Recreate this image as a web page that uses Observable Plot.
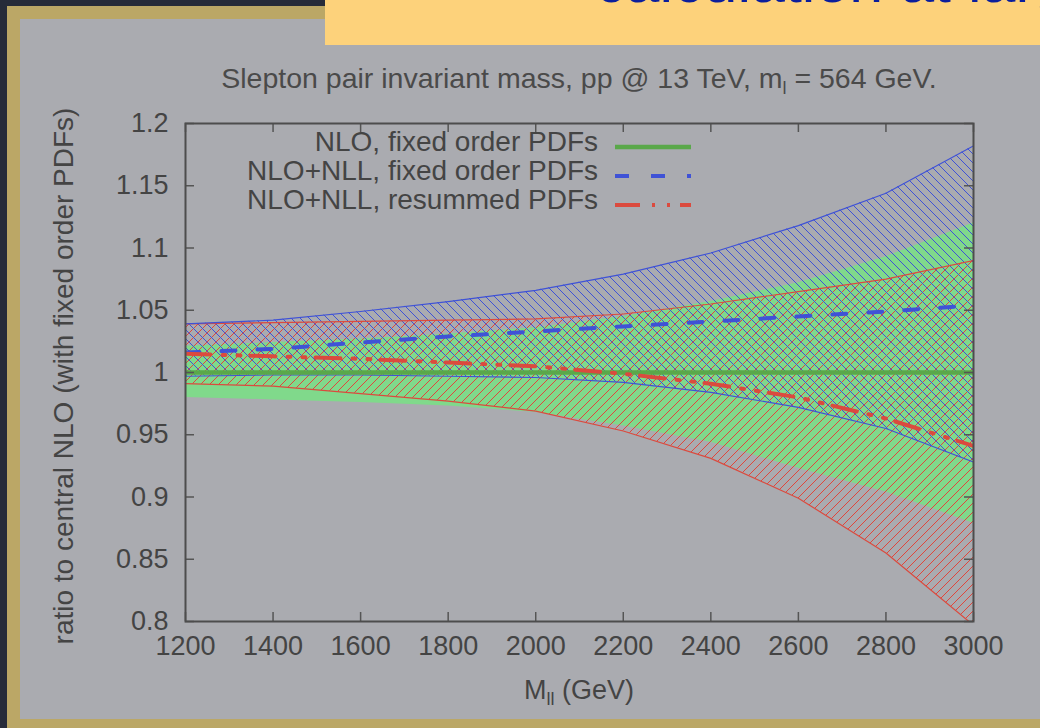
<!DOCTYPE html>
<html><head><meta charset="utf-8">
<script src="https://cdn.jsdelivr.net/npm/d3@7"></script>
<script src="https://cdn.jsdelivr.net/npm/@observablehq/plot@0.6"></script>
<style>
html,body{margin:0;padding:0;}
body{width:1040px;height:728px;overflow:hidden;position:relative;background:#aaabb0;font-family:"Liberation Sans",Arial,Helvetica,sans-serif;color:#444;}
.abs{position:absolute;}
.sub{font-size:18px;position:relative;top:6px;}
</style></head><body>
<!-- slide decorations -->
<div class="abs" style="left:0;top:0;width:10px;height:728px;background:#262b39"></div>
<div class="abs" style="left:0;top:0;width:330px;height:8px;background:#262b39"></div>
<div class="abs" style="left:8px;top:6px;width:322px;height:13px;background:#bba766"></div>
<div class="abs" style="left:7px;top:6px;width:13px;height:722px;background:#bba766"></div>
<div class="abs" style="left:7px;top:719px;width:1033px;height:9px;background:#bba766"></div>
<div class="abs" style="left:325px;top:0;width:715px;height:45px;background:#fdd27b;overflow:hidden">
  <div class="abs" style="left:270px;top:-49px;font-size:61px;line-height:61px;color:#0b1e9c;white-space:nowrap">calculation at large</div>
</div>

<svg width="0" height="0" style="position:absolute">
  <defs>
    <pattern id="hatchRed" patternUnits="userSpaceOnUse" width="9" height="9">
      <path d="M-1,1 l2,-2 M0,9 l9,-9 M8,10 l2,-2" stroke="#df463c" stroke-width="1" fill="none"/>
    </pattern>
    <pattern id="hatchBlue" patternUnits="userSpaceOnUse" width="9" height="9">
      <path d="M-1,8 l2,2 M0,0 l9,9 M8,-1 l2,2" stroke="#3f52d6" stroke-width="1" fill="none"/>
    </pattern>
  </defs>
</svg>

<div id="chart" class="abs" style="left:0;top:0"></div>

<div class="abs" style="left:185px;top:64px;width:788px;text-align:center;font-size:28.5px;line-height:28px;color:#4a4a4a;white-space:nowrap">Slepton pair invariant mass, pp @ 13 TeV, m<span class="sub">l</span> = 564 GeV.</div>
<div class="abs" style="left:185px;top:677px;width:788px;text-align:center;font-size:27px;line-height:27px;white-space:nowrap">M<span class="sub">ll</span> (GeV)</div>
<div class="abs" style="left:-236px;top:362px;width:600px;height:28px;text-align:center;font-size:28px;line-height:28px;white-space:nowrap;transform:rotate(-90deg)">ratio to central NLO (with fixed order PDFs)</div>

<div id="legend"></div>

<script>
// ---- data ----
const mass = [1200, 1400, 1600, 1800, 2000, 2200, 2400, 2600, 2800, 3000];
// NLO, fixed order PDFs (green band, central = 1)
const nloCentral = [1, 1, 1, 1, 1, 1, 1, 1, 1, 1];
const nloLow  = [0.980, 0.978, 0.976, 0.973, 0.968, 0.957, 0.944, 0.923, 0.904, 0.879];
const nloHigh = [1.021, 1.024, 1.027, 1.031, 1.036, 1.045, 1.057, 1.072, 1.093, 1.120];
// NLO+NLL, fixed order PDFs (blue band)
const foCentral = [1.016, 1.019, 1.024, 1.029, 1.033, 1.037, 1.041, 1.045, 1.049, 1.054];
const foLow  = [0.997, 0.998, 0.998, 0.997, 0.996, 0.992, 0.984, 0.972, 0.955, 0.928];
const foHigh = [1.039, 1.042, 1.049, 1.057, 1.066, 1.079, 1.096, 1.118, 1.144, 1.182];
// NLO+NLL, resummed PDFs (red band)
const resCentral = [1.015, 1.013, 1.011, 1.008, 1.005, 0.999, 0.991, 0.980, 0.963, 0.941];
const resLow  = [0.991, 0.989, 0.983, 0.977, 0.969, 0.953, 0.931, 0.899, 0.855, 0.797];
const resHigh = [1.039, 1.040, 1.041, 1.042, 1.043, 1.047, 1.055, 1.065, 1.075, 1.090];

const xTicks = [1200, 1400, 1600, 1800, 2000, 2200, 2400, 2600, 2800, 3000];
const yTicks = [0.8, 0.85, 0.9, 0.95, 1, 1.05, 1.1, 1.15, 1.2];

const legendLabels = ["NLO, fixed order PDFs", "NLO+NLL, fixed order PDFs", "NLO+NLL, resummed PDFs"];

// ---- styles ----
const GREEN_FILL = "#80d98b", GREEN = "#5aa84a", BLUE = "#3f52d6", RED = "#db4a3e";
const BLUE_DASH = "14,22", RED_DASH = "25,12,3,12,3,10";

const rows = mass.map((m, i) => ({
  m, nloC: nloCentral[i], nloLo: nloLow[i], nloHi: nloHigh[i],
  foC: foCentral[i], foLo: foLow[i], foHi: foHigh[i],
  resC: resCentral[i], resLo: resLow[i], resHi: resHigh[i]
}));

const W = 1040, H = 728, ML = 185, MR = 67, MT = 123, MB = 107;
const FW = W - ML - MR, FH = H - MT - MB, TL = 9;

const plot = Plot.plot({
  width: W, height: H,
  marginLeft: ML, marginRight: MR, marginTop: MT, marginBottom: MB,
  style: {background: "transparent", color: "#444", fontFamily: "'Liberation Sans', Arial, sans-serif", overflow: "visible"},
  x: {domain: [1200, 3000]},
  y: {domain: [0.8, 1.2]},
  marks: [
    Plot.areaY(rows, {x: "m", y1: "nloLo", y2: "nloHi", fill: GREEN_FILL, clip: true}),
    Plot.areaY(rows, {x: "m", y1: "resLo", y2: "resHi", fill: "url(#hatchRed)", clip: true}),
    Plot.areaY(rows, {x: "m", y1: "foLo", y2: "foHi", fill: "url(#hatchBlue)", clip: true}),
    Plot.line(rows, {x: "m", y: "resLo", stroke: RED, strokeWidth: 1.2, clip: true}),
    Plot.line(rows, {x: "m", y: "resHi", stroke: RED, strokeWidth: 1.2, clip: true}),
    Plot.line(rows, {x: "m", y: "foLo", stroke: BLUE, strokeWidth: 1.2, clip: true}),
    Plot.line(rows, {x: "m", y: "foHi", stroke: BLUE, strokeWidth: 1.2, clip: true}),
    Plot.line(rows, {x: "m", y: "nloC", stroke: GREEN, strokeWidth: 4.5, clip: true}),
    Plot.line(rows, {x: "m", y: "foC", stroke: BLUE, strokeWidth: 4, strokeDasharray: BLUE_DASH, clip: true}),
    Plot.line(rows, {x: "m", y: "resC", stroke: RED, strokeWidth: 4, strokeDasharray: RED_DASH, clip: true}),
    // inward ticks on all four sides
    Plot.tickX(xTicks, {x: d => d, stroke: "#555", strokeWidth: 1.5, insetTop: FH - TL}),
    Plot.tickX(xTicks, {x: d => d, stroke: "#555", strokeWidth: 1.5, insetBottom: FH - TL}),
    Plot.tickY(yTicks, {y: d => d, stroke: "#555", strokeWidth: 1.5, insetRight: FW - TL}),
    Plot.tickY(yTicks, {y: d => d, stroke: "#555", strokeWidth: 1.5, insetLeft: FW - TL}),
    Plot.frame({stroke: "#4d4d4d", strokeWidth: 2}),
    Plot.axisX(xTicks, {anchor: "bottom", tickSize: 0, tickPadding: 14, fontSize: 27, tickFormat: d => String(d), label: null}),
    Plot.axisY(yTicks, {anchor: "left", tickSize: 0, tickPadding: 17, fontSize: 27, tickFormat: d => String(+d.toFixed(2)), label: null})
  ]
});
document.getElementById("chart").appendChild(plot);

// ---- legend (inside plot, top) ----
const legendStyles = [
  {stroke: GREEN, width: 4.5, dash: null},
  {stroke: BLUE, width: 4, dash: BLUE_DASH},
  {stroke: RED, width: 4, dash: RED_DASH}
];
const baselines = [152, 181, 210];
const leg = document.getElementById("legend");
legendLabels.forEach((txt, i) => {
  const t = document.createElement("div");
  t.className = "abs";
  t.style.cssText = `right:${W - 598}px;top:${baselines[i] - 22}px;font-size:28px;line-height:24px;white-space:nowrap;color:#444`;
  t.textContent = txt;
  leg.appendChild(t);
  const s = legendStyles[i];
  const svg = d3.create("svg").attr("width", 80).attr("height", 12)
    .style("position", "absolute").style("left", "613px").style("top", (baselines[i] - 11) + "px");
  svg.append("line").attr("x1", 2).attr("x2", 78).attr("y1", 6).attr("y2", 6)
    .attr("stroke", s.stroke).attr("stroke-width", s.width).attr("stroke-dasharray", s.dash);
  leg.appendChild(svg.node());
});
</script>
</body></html>
